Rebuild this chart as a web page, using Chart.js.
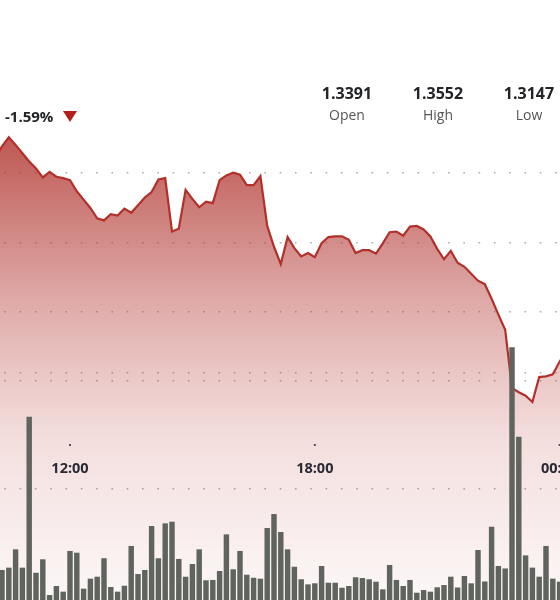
<!DOCTYPE html>
<html>
<head>
<meta charset="utf-8">
<script src="https://cdn.jsdelivr.net/npm/chart.js@4.4.1/dist/chart.umd.min.js"></script>
<style>
  html, body { margin: 0; padding: 0; background: #ffffff; overflow: hidden; }
  #wrap { position: relative; width: 560px; height: 600px; }
  #c { position: absolute; left: 0; top: 0; }
  .stat { position: absolute; width: 80px; text-align: center; font-family: "Open Sans", sans-serif; }
  .stat .v { font-weight: 700; font-size: 16px; color: #222428; line-height: 20px; }
  .stat .l { font-weight: 400; font-size: 14px; color: #555; line-height: 18px; margin-top: 3px; }
  #chg { position: absolute; left: 5px; top: 105px; font-family: "Open Sans", sans-serif; font-weight: 700; font-size: 15px; color: #222428; line-height: 22px; }
  #tri { position: absolute; left: 63px; top: 111px; width: 0; height: 0; border-left: 7px solid transparent; border-right: 7px solid transparent; border-top: 11px solid #b3201c; }
</style>
</head>
<body>
<div id="wrap">
  <canvas id="c" width="560" height="600"></canvas>
  <div id="chg">-1.59%</div>
  <div id="tri"></div>
  <div class="stat" style="left:307px; top:83px;"><div class="v">1.3391</div><div class="l">Open</div></div>
  <div class="stat" style="left:398px; top:83px;"><div class="v">1.3552</div><div class="l">High</div></div>
  <div class="stat" style="left:489px; top:83px;"><div class="v">1.3147</div><div class="l">Low</div></div>
</div>
<script>
// ---- data ----
const times = [
  '10:10','10:20','10:30','10:40','10:50','11:00','11:10','11:20','11:30','11:40','11:50',
  '12:00','12:10','12:20','12:30','12:40','12:50','13:00','13:10','13:20','13:30','13:40','13:50',
  '14:00','14:10','14:20','14:30','14:40','14:50','15:00','15:10','15:20','15:30','15:40','15:50',
  '16:00','16:10','16:20','16:30','16:40','16:50','17:00','17:10','17:20','17:30','17:40','17:50',
  '18:00','18:10','18:20','18:30','18:40','18:50','19:00','19:10','19:20','19:30','19:40','19:50',
  '20:00','20:10','20:20','20:30','20:40','20:50','21:00','21:10','21:20','21:30','21:40','21:50',
  '22:00','22:10','22:20','22:30','22:40','22:50','23:00','23:10','23:20','23:30','23:40','23:50',
  '00:00','00:10'
];
const prices = [
  1.3522, 1.3539, 1.3552, 1.3541, 1.3529, 1.3517, 1.3507, 1.3494, 1.3502, 1.3495, 1.3493,
  1.3490, 1.3474, 1.3462, 1.3450, 1.3435, 1.3432, 1.3441, 1.3439, 1.3449, 1.3443, 1.3454, 1.3465,
  1.3473, 1.3491, 1.3493, 1.3416, 1.3420, 1.3476, 1.3463, 1.3451, 1.3459, 1.3457, 1.3490, 1.3497,
  1.3501, 1.3498, 1.3483, 1.3483, 1.3496, 1.3424, 1.3394, 1.3369, 1.3408, 1.3392, 1.3380, 1.3385,
  1.3379, 1.3399, 1.3408, 1.3409, 1.3409, 1.3404, 1.3385, 1.3389, 1.3389, 1.3384, 1.3399, 1.3415,
  1.3416, 1.3410, 1.3423, 1.3424, 1.3419, 1.3409, 1.3391, 1.3376, 1.3388, 1.3371, 1.3365, 1.3355,
  1.3345, 1.3340, 1.3319, 1.3296, 1.3274, 1.3190, 1.3184, 1.3179, 1.3170, 1.3206, 1.3207, 1.3210,
  1.3228, 1.3245
];
const volumes = [
  25, 30.2, 32.2, 48.0, 32.2, 162.3, 27.8, 39.4, 8.6, 16.4, 11.5,
  46.6, 45.1, 14.1, 22.7, 24.4, 40.3, 15.5, 11.5, 16.6, 50.9, 26.7, 30.2,
  68.1, 40.3, 70.4, 71.8, 39.7, 24.4, 35.3, 48.0, 21.3, 21.6, 29.3, 60.9,
  30.8, 46.6, 26.1, 23.5, 22.7, 66.4, 78.4, 62.9, 48.0, 33.0, 22.2, 17.8,
  18.7, 33.6, 19.2, 19.2, 14.9, 16.4, 23.9, 23.3, 22.2, 20.1, 13.5, 34.5,
  21.6, 16.4, 21.6, 10.6, 12.9, 11.5, 15.3, 17.2, 24.4, 15.1, 25.0, 18.7,
  47.4, 20.3, 67.5, 33.6, 31.5, 222.2, 145.1, 42.8, 32.2, 24.4, 50.9, 22.7,
  20.1, 30
];
const xTickLabels = ['12:00', '18:00', '00:00'];
const xTickHours = [12, 18, 24];
const priceGridValues = [1.32, 1.33, 1.34, 1.35];
const volumeGridValues = [100, 200];

// time string -> hour number (after-midnight times continue past 24)
function toHour(s) {
  const [h, m] = s.split(':').map(Number);
  return (h < 10 ? h + 24 : h) + m / 60;
}
const xs = times.map(toHour);
const pricePts = xs.map((x, i) => ({ x, y: prices[i] }));
const volPts = xs.map((x, i) => ({ x, y: volumes[i] }));

const keepOnly = (vals) => (scale) => {
  scale.ticks = scale.ticks.filter(t => vals.some(v => Math.abs(v - t.value) < 1e-6));
  vals.forEach(v => { if (!scale.ticks.some(t => Math.abs(v - t.value) < 1e-6)) scale.ticks.push({ value: v }); });
};

const xLabelsPlugin = {
  id: 'xLabels',
  afterDatasetsDraw(chart) {
    const { ctx, scales } = chart;
    ctx.save();
    xTickHours.forEach((h, i) => {
      const px = scales.x.getPixelForValue(h);
      ctx.fillStyle = '#555';
      ctx.fillRect(px - 1, 444, 2, 2);
      ctx.fillStyle = '#2a2a35';
      ctx.font = 'bold 14.5px "Open Sans", sans-serif';
      ctx.textAlign = 'center';
      ctx.textBaseline = 'middle';
      ctx.fillText(xTickLabels[i], px, 469);
    });
    ctx.restore();
  }
};

const gridCommon = {
  color: 'rgba(110,100,100,0.55)',
  lineWidth: 1.6,
  drawTicks: false
};
const borderCommon = { display: false, dash: [1.6, 13.7], dashOffset: 11 };

new Chart(document.getElementById('c'), {
  data: {
    datasets: [
      {
        type: 'bar',
        data: volPts,
        yAxisID: 'yVol',
        backgroundColor: '#5f645e',
        borderWidth: 0,
        barPercentage: 0.8,
        categoryPercentage: 1.0,
        order: 0
      },
      {
        type: 'line',
        data: pricePts,
        yAxisID: 'yPrice',
        borderColor: '#b3302a',
        borderWidth: 2.2,
        pointRadius: 0,
        tension: 0,
        fill: 'start',
        backgroundColor: (ctx) => {
          const area = ctx.chart.chartArea;
          if (!area) return 'rgba(180,60,55,0.4)';
          const g = ctx.chart.ctx.createLinearGradient(0, area.top, 0, area.bottom);
          g.addColorStop(0.21, 'rgba(176,52,46,0.85)');
          g.addColorStop(0.50, 'rgba(180,60,55,0.44)');
          g.addColorStop(0.73, 'rgba(190,80,75,0.19)');
          g.addColorStop(1.0, 'rgba(200,100,95,0.05)');
          return g;
        },
        order: 1
      }
    ]
  },
  options: {
    responsive: false,
    animation: false,
    layout: { padding: 0 },
    plugins: { legend: { display: false }, tooltip: { enabled: false } },
    scales: {
      x: {
        type: 'linear',
        min: 10.2843,
        max: 24.0098,
        offset: false,
        grid: { offset: false },
        display: false
      },
      yPrice: {
        type: 'linear',
        position: 'left',
        min: 1.288427,
        max: 1.375007,
        ticks: { display: false, stepSize: 0.01 },
        afterBuildTicks: keepOnly(priceGridValues),
        grid: gridCommon,
        border: borderCommon
      },
      yVol: {
        type: 'linear',
        position: 'right',
        min: 4.31,
        max: 521.55,
        ticks: { display: false, stepSize: 100 },
        afterBuildTicks: keepOnly(volumeGridValues),
        grid: gridCommon,
        border: borderCommon
      }
    }
  },
  plugins: [xLabelsPlugin]
});
</script>
</body>
</html>
